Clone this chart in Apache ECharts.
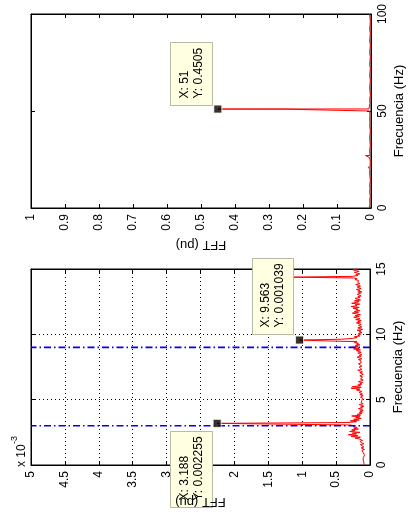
<!DOCTYPE html>
<html><head><meta charset="utf-8">
<script src="https://cdn.jsdelivr.net/npm/echarts@6/dist/echarts.min.js"></script>
<style>html,body{margin:0;padding:0;background:#fff}#c{width:411px;height:522px}</style>
</head><body><div id="c"></div>
<script>
// ---------- DATA ----------
// Top panel: FFT magnitude (pu) vs frequency (Hz)
const topFreq = [
 0,2,4,6,8,10,12,14,16,18,20,20.9375,21,21.0625,22,24,26,26.9375,27,27.0625,
 28,30,32,34,36,38,40,42,44,46,48,50,50.875,50.9375,51,51.0625,52,54,56,58,
 60,62,64,66,68,70,72,74,76,78,80,82,84,86,88,90,92,94,96,98,100
];
const topFFT = [
 0.005,0.003,0.004,0.002,0.004,0.003,0.004,0.002,0.003,0.004,0.003,0.003,0.009,0.003,0.004,0.002,0.004,0.003,0.016,0.003,
 0.003,0.004,0.002,0.003,0.004,0.003,0.002,0.004,0.003,0.004,0.003,0.004,0.005,0.25,0.4505,0.006,0.004,0.003,0.004,0.002,
 0.003,0.004,0.003,0.002,0.004,0.003,0.002,0.004,0.003,0.002,0.004,0.003,0.002,0.004,0.003,0.002,0.004,0.003,0.002,0.003,0.004
];
// Bottom panel: zoom 0..15 Hz, 0.0625 Hz FFT bins
const bottomBinHz = 0.0625;
const bottomFFT = [
 0.9e-4,1.0e-4,0.8e-4,0.9e-4,1.1e-4,0.9e-4,1.0e-4,0.8e-4,0.9e-4,1.0e-4,0.9e-4,1.1e-4,0.8e-4,1.0e-4,0.9e-4,1.0e-4,
 1.0e-4,0.9e-4,1.2e-4,0.8e-4,1.0e-4,1.3e-4,0.9e-4,1.1e-4,1.0e-4,1.4e-4,0.9e-4,1.2e-4,1.0e-4,1.5e-4,1.1e-4,1.3e-4,
 1.6e-4,2.2e-4,1.4e-4,2.8e-4,1.8e-4,3.2e-4,2.0e-4,2.6e-4,1.5e-4,3.0e-4,2.2e-4,2.7e-4,1.7e-4,2.4e-4,1.9e-4,2.5e-4,
 2.2e-4,3.0e-4,13.0e-4,22.55e-4,3.4e-4,2.0e-4,2.9e-4,1.6e-4,2.4e-4,1.3e-4,2.1e-4,1.5e-4,2.7e-4,1.4e-4,1.9e-4,1.2e-4,
 1.6e-4,1.1e-4,1.5e-4,1.0e-4,1.3e-4,1.7e-4,1.1e-4,1.4e-4,0.9e-4,1.2e-4,1.6e-4,1.0e-4,1.3e-4,1.1e-4,1.5e-4,1.2e-4,
 1.0e-4,1.3e-4,1.1e-4,1.4e-4,1.2e-4,1.0e-4,1.5e-4,1.1e-4,1.3e-4,1.6e-4,1.2e-4,1.4e-4,2.0e-4,1.5e-4,2.8e-4,1.3e-4,
 2.6e-4,1.4e-4,1.8e-4,1.2e-4,1.5e-4,1.1e-4,1.7e-4,1.3e-4,1.0e-4,1.4e-4,1.6e-4,1.2e-4,1.1e-4,1.5e-4,1.3e-4,1.0e-4,
 1.2e-4,1.5e-4,1.1e-4,1.4e-4,1.8e-4,1.2e-4,1.3e-4,1.0e-4,1.6e-4,1.2e-4,1.4e-4,1.1e-4,1.7e-4,1.3e-4,1.5e-4,1.2e-4,
 1.4e-4,1.7e-4,1.2e-4,1.5e-4,1.9e-4,1.3e-4,1.6e-4,1.2e-4,1.5e-4,1.8e-4,1.3e-4,1.6e-4,2.0e-4,1.4e-4,2.4e-4,1.6e-4,
 2.9e-4,1.8e-4,2.2e-4,1.5e-4,2.0e-4,1.7e-4,2.3e-4,1.9e-4,6.5e-4,10.39e-4,4.2e-4,2.6e-4,1.9e-4,2.3e-4,1.5e-4,1.8e-4,
 1.4e-4,1.7e-4,1.2e-4,1.6e-4,1.3e-4,1.9e-4,1.1e-4,1.5e-4,1.8e-4,1.2e-4,1.4e-4,1.7e-4,1.3e-4,1.6e-4,2.0e-4,1.4e-4,
 1.8e-4,1.3e-4,2.1e-4,1.5e-4,1.9e-4,2.4e-4,1.6e-4,2.2e-4,1.4e-4,2.0e-4,2.6e-4,1.7e-4,2.3e-4,1.5e-4,2.1e-4,1.8e-4,
 2.5e-4,1.6e-4,2.8e-4,1.9e-4,2.2e-4,1.5e-4,2.7e-4,2.0e-4,1.6e-4,2.3e-4,1.4e-4,1.9e-4,2.2e-4,1.5e-4,1.8e-4,1.3e-4,
 1.6e-4,1.9e-4,1.4e-4,1.7e-4,1.2e-4,1.8e-4,1.5e-4,2.0e-4,1.3e-4,1.6e-4,1.9e-4,1.4e-4,1.7e-4,2.1e-4,1.5e-4,1.8e-4,
 1.6e-4,2.0e-4,1.7e-4,2.2e-4,1.9e-4,2.4e-4,11.3e-4,2.6e-4,1.8e-4,2.1e-4,1.5e-4,1.9e-4,2.3e-4,1.6e-4,2.0e-4,2.5e-4,
 1.8e-4
];
const bottomRefLinesHz = [3, 9];
// Data tips
const tipFreq = [51, 9.563, 3.188];
const tipFFT = [0.4505, 0.001039, 0.002255];
const tipPanel = [0, 1, 1];
const tipText = [['X: 51', 'Y: 0.4505'], ['X: 9.563', 'Y: 0.001039'], ['X: 3.188', 'Y: 0.002255']];
const axisNameFFT = 'FFT (pu)';
const axisNameFreq = 'Frecuencia (Hz)';
const topFFTMax = 1, bottomFFTMax = 0.005;

// ---------- CHART ----------
const FONT = '"Liberation Sans", Arial, Helvetica, sans-serif';
const chart = echarts.init(document.getElementById('c'), null, {renderer: 'canvas'});

const axisLine = {show: true, onZero: false, lineStyle: {color: '#000', width: 1}};
const axisTick = {show: true, inside: true, length: 4, lineStyle: {color: '#000', width: 1}};
const dotted = {show: true, lineStyle: {color: '#000', width: 1, type: [1, 3]}};
const labelStyle = {fontSize: 12, fontFamily: FONT, color: '#000'};

function fftAxis(g, max, interval, main, fmt, grid, withName) {
  return {
    type: 'value', gridIndex: g, position: main ? 'bottom' : 'top', inverse: true,
    min: 0, max: max, interval: interval,
    axisLine: axisLine, axisTick: axisTick,
    axisLabel: Object.assign({show: main, rotate: 90, margin: 6, formatter: fmt}, labelStyle),
    splitLine: grid && main ? dotted : {show: false},
    name: withName ? axisNameFFT : '', nameLocation: 'middle', nameRotate: 180, nameGap: 30,
    nameMoveOverlap: false,
    nameTextStyle: {fontSize: 13, fontFamily: FONT, color: '#000'}
  };
}
function freqAxis(g, max, interval, main, grid) {
  return {
    type: 'value', gridIndex: g, position: main ? 'right' : 'left',
    min: 0, max: max, interval: interval,
    axisLine: axisLine, axisTick: axisTick,
    axisLabel: Object.assign({show: main, rotate: 90, margin: 6}, labelStyle),
    splitLine: grid && main ? dotted : {show: false},
    name: main ? axisNameFreq : '', nameLocation: 'middle', nameRotate: 90, nameGap: 22,
    nameMoveOverlap: false,
    nameTextStyle: {fontSize: 13, fontFamily: FONT, color: '#000'}
  };
}
const fmtTop = v => String(+v.toFixed(1));
const fmtBot = v => String(+(v * 1000).toFixed(1));

const tipsTop = [], tipsBot = [];
tipFreq.forEach((f, i) => (tipPanel[i] === 0 ? tipsTop : tipsBot).push([tipFFT[i], f]));

const tipMarker = {
  type: 'scatter', symbol: 'rect', symbolSize: 8, z: 10, silent: true,
  itemStyle: {color: '#000', borderColor: '#ffffe1', borderWidth: 1}
};

const series = [
  {type: 'line', xAxisIndex: 0, yAxisIndex: 0, showSymbol: false, symbol: 'none', z: 3,
   lineStyle: {color: '#ff0000', width: 1}, data: topFFT.map((v, i) => [v, topFreq[i]])},
  {type: 'line', xAxisIndex: 1, yAxisIndex: 1, showSymbol: false, symbol: 'none', z: 3,
   lineStyle: {color: '#ff0000', width: 1}, data: bottomFFT.map((v, i) => [v, i * bottomBinHz])},
  Object.assign({xAxisIndex: 0, yAxisIndex: 0, data: tipsTop}, tipMarker),
  Object.assign({xAxisIndex: 1, yAxisIndex: 1, data: tipsBot}, tipMarker)
];
bottomRefLinesHz.forEach(f => series.push({
  type: 'line', xAxisIndex: 1, yAxisIndex: 1, showSymbol: false, symbol: 'none', silent: true, z: 4,
  color: '#0000ff', itemStyle: {color: '#0000ff'},
  lineStyle: {color: '#0000ff', width: 1.6, type: [7, 3, 1.5, 3]},
  data: [[0, f], [bottomFFTMax, f]]
}));

chart.setOption({
  animation: false,
  backgroundColor: '#fff',
  grid: [
    {left: 31, top: 14, width: 340, height: 194, show: true, borderColor: '#000', borderWidth: 1, backgroundColor: '#fff', outerBoundsMode: 'none', containLabel: false},
    {left: 31, top: 269, width: 339, height: 196, show: true, borderColor: '#000', borderWidth: 1, backgroundColor: '#fff', outerBoundsMode: 'none', containLabel: false}
  ],
  xAxis: [
    fftAxis(0, topFFTMax, 0.1, true, fmtTop, false, true),
    fftAxis(1, bottomFFTMax, 0.0005, true, fmtBot, true, false),
    fftAxis(0, topFFTMax, 0.1, false, fmtTop, false, false),
    fftAxis(1, bottomFFTMax, 0.0005, false, fmtBot, true, false)
  ],
  yAxis: [
    freqAxis(0, 100, 50, true, false),
    freqAxis(1, 15, 5, true, true),
    freqAxis(0, 100, 50, false, false),
    freqAxis(1, 15, 5, false, true)
  ],
  series: series
});

// data-tip boxes, placed from the library's own pixel conversion
const tipBox = [
  {dx: -48, dy: -67, w: 42, h: 63},
  {dx: -48, dy: -82, w: 41, h: 76},
  {dx: -47, dy: 8, w: 42, h: 76}
];
const els = [];
tipFreq.forEach((f, i) => {
  const p = chart.convertToPixel({seriesIndex: tipPanel[i] === 0 ? 2 : 3}, [tipFFT[i], f]);
  const b = tipBox[i];
  const bx = Math.round(p[0] + b.dx) + 0.5, by = Math.round(p[1] + b.dy) + 0.5;
  els.push({type: 'rect', z: 100, shape: {x: bx, y: by, width: b.w, height: b.h},
    style: {fill: '#ffffe1', stroke: '#b9b9a8', lineWidth: 1}});
  els.push({type: 'text', z: 101, x: bx + b.w / 2, y: by + b.h - 7, rotation: Math.PI / 2,
    style: {text: tipText[i].join('\n'), fontSize: 12, fontFamily: FONT, lineHeight: 14,
      textAlign: 'left', textVerticalAlign: 'middle', verticalAlign: 'middle', fill: '#000'}});
});
// bottom FFT axis title, drawn above the data-tip box as in the original
const gb = chart.convertToPixel({xAxisIndex: 1}, bottomFFTMax / 2);
els.push({type: 'text', z: 102, x: gb, y: 502, rotation: Math.PI,
  style: {text: axisNameFFT, fontSize: 13, fontFamily: FONT, textAlign: 'center', textVerticalAlign: 'middle', verticalAlign: 'middle', fill: '#000'}});
// exponent label of bottom FFT axis
els.push({type: 'text', z: 50, x: 22, y: 467, rotation: Math.PI / 2,
  style: {text: 'x 10', fontSize: 12, fontFamily: FONT, textAlign: 'left', textVerticalAlign: 'middle', verticalAlign: 'middle', fill: '#000'}});
els.push({type: 'text', z: 50, x: 15, y: 444, rotation: Math.PI / 2,
  style: {text: '-3', fontSize: 9, fontFamily: FONT, textAlign: 'left', textVerticalAlign: 'middle', verticalAlign: 'middle', fill: '#000'}});
chart.setOption({graphic: els});
</script>
</body></html>
